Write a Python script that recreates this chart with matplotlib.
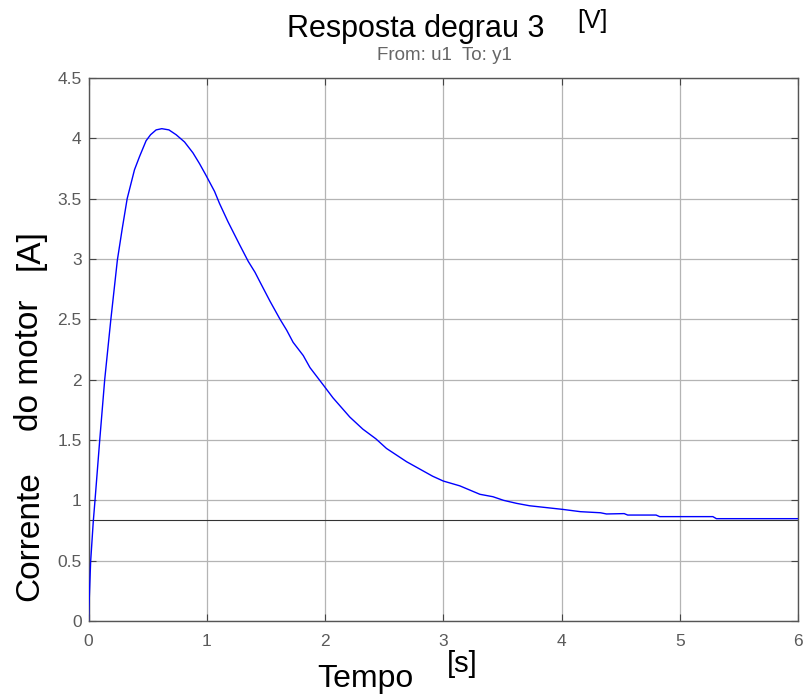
import matplotlib
matplotlib.use("Agg")
import matplotlib.pyplot as plt
import numpy as np

plt.rcParams['font.family'] = ['Liberation Sans', 'DejaVu Sans']

# Step response data
t = [0.0, 0.004, 0.018, 0.04, 0.055, 0.095, 0.137, 0.188, 0.244, 0.285, 0.327, 0.389,
     0.432, 0.487, 0.525, 0.572, 0.62, 0.68, 0.741, 0.812, 0.883, 0.939, 0.99, 1.066, 1.108, 1.179,
     1.277, 1.351, 1.408, 1.45, 1.535, 1.62, 1.676, 1.73, 1.816, 1.873, 1.99, 2.067,
     2.21, 2.32, 2.43, 2.52, 2.69, 2.91, 3.0, 3.14, 3.31, 3.42, 3.51, 3.62, 3.73, 3.87,
     4.01, 4.16, 4.33, 4.38, 4.53, 4.56, 4.80, 4.83, 5.28, 5.31, 6.0]
y = [0.0, 0.12, 0.49, 0.82, 1.0, 1.50, 2.0, 2.49, 2.99, 3.25, 3.50, 3.74,
     3.85, 3.98, 4.03, 4.07, 4.08, 4.07, 4.03, 3.97, 3.88, 3.79, 3.70, 3.56, 3.46, 3.31,
     3.12, 2.98, 2.89, 2.81, 2.65, 2.50, 2.41, 2.31, 2.20, 2.10, 1.95, 1.85,
     1.69, 1.59, 1.51, 1.43, 1.32, 1.20, 1.16, 1.12, 1.05, 1.03, 1.00, 0.975, 0.955, 0.94,
     0.925, 0.906, 0.897, 0.887, 0.89, 0.878, 0.878, 0.865, 0.865, 0.848, 0.848]
steady_state = 0.833

xticks = [0, 1, 2, 3, 4, 5, 6]
yticks = [0, 0.5, 1, 1.5, 2, 2.5, 3, 3.5, 4, 4.5]
yticklabels = ['0', '0.5', '1', '1.5', '2', '2.5', '3', '3.5', '4', '4.5']

W, H = 805, 699
fig = plt.figure(figsize=(W/100, H/100), dpi=100)
ax = fig.add_axes([88.5/W, 1 - 621/H, (798-88.5)/W, (621-78)/H])

ax.plot(t, y, color='#0000ff', lw=1.0, zorder=3)
ax.axhline(steady_state, color='#333333', lw=0.8, zorder=2)

ax.set_xlim(0, 6)
ax.set_ylim(0, 4.5)
ax.set_xticks(xticks)
ax.set_yticks(yticks)
ax.set_yticklabels(yticklabels)
ax.grid(True, color='#b4b4b4', lw=0.9)
ax.tick_params(direction='in', length=5, width=0.8, color='#444444',
               labelcolor='#5a5a5a', labelsize=12.5, top=True, right=True)
ax.tick_params(axis='y', pad=5)
ax.tick_params(axis='x', pad=9)
for s in ax.spines.values():
    s.set_color('#555555')
    s.set_linewidth(1.0)

def px(x, yy):
    return x / W, 1 - yy / H

fig.text(*px(416, 37), 'Resposta degrau 3', ha='center', va='baseline', fontsize=22)
fig.text(*px(592, 21), '[V]', ha='center', va='center', fontsize=18)
fig.text(*px(444, 55), 'From: u1  To: y1', ha='center', va='center', fontsize=13.5, color='#666666')

fig.text(*px(365, 687), 'Tempo', ha='center', va='baseline', fontsize=23)
fig.text(*px(462, 664), '[s]', ha='center', va='center', fontsize=21)

fig.text(*px(30, 536), 'Corrente', ha='center', va='center', fontsize=24, rotation=90)
fig.text(*px(30, 365), 'do motor', ha='center', va='center', fontsize=24, rotation=90)
fig.text(*px(30, 250), '[A]', ha='center', va='center', fontsize=24, rotation=90)

fig.savefig('out.png', dpi=100)
